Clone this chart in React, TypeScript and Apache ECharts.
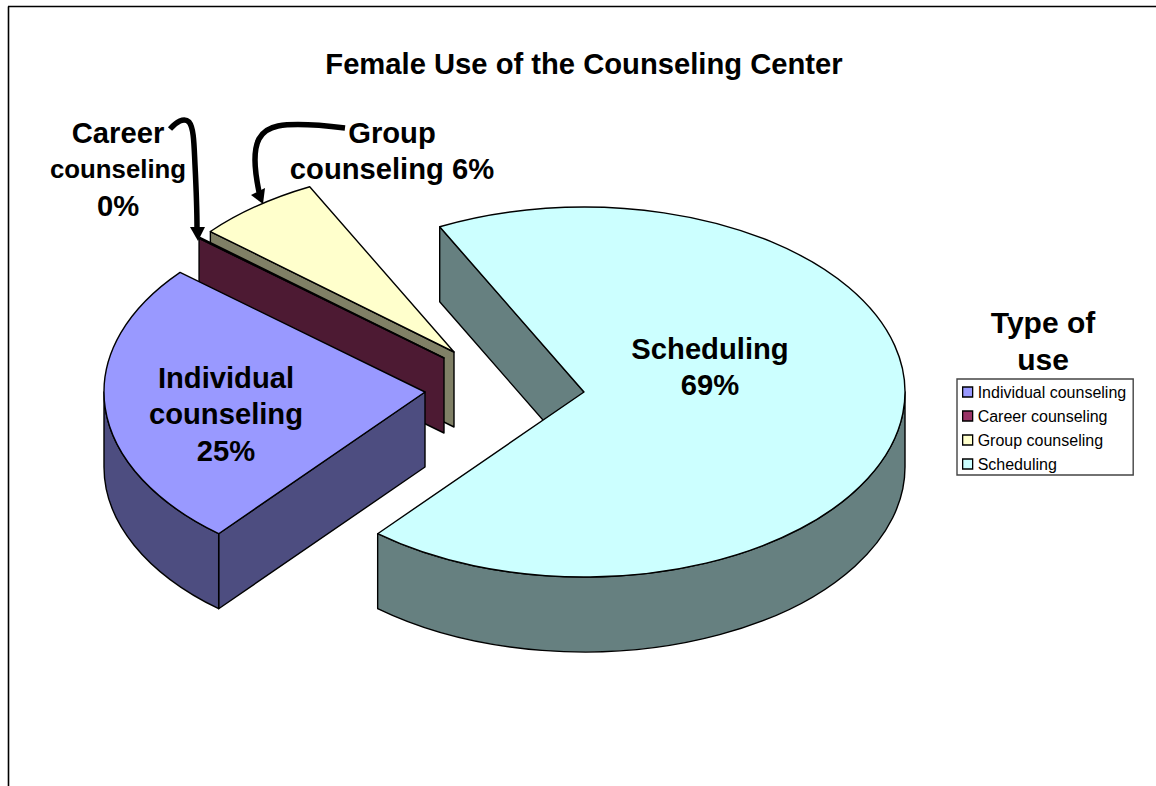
import React, { useEffect, useRef } from "react";
import * as echarts from "echarts";

const categories = ["Individual counseling", "Career counseling", "Group counseling", "Scheduling"];
const shares = [25.1, 0.1, 6.3, 68.6];
const sliceLabels = ["Individual\ncounseling\n25%", "Career\ncounseling\n0%", "Group\ncounseling 6%", "Scheduling\n69%"];
const topColors = ["#9999FF", "#993366", "#FFFFCC", "#CCFFFF"];
const sideColors = ["#4D4D80", "#4D1A33", "#808066", "#668080"];
const chartTitle = "Female Use of the Counseling Center";
const legendTitleLines = ["Type of", "use"];

// Layout of the exploded pie
const FONT = '"Liberation Sans", Arial, sans-serif';
const RX = 321;
const RY = 185;
const DEPTH = 75;
const FIRST_ANGLE = 220;
const LABEL_SIZE = 29.2;
const LABEL_LINE = 36.5;
const centers = [
  [425, 392],
  [444, 358],
  [454, 352],
  [584, 392],
];
const drawOrder = [4, 2, 1, 3];
const labelAnchors = [
  [226, 414],
  [118, 169],
  [392, 151],
  [710, 367],
];

const total = shares.reduce((a, b) => a + b, 0);

function pt(c: number[], deg: number, dy = 0) {
  const r = (deg * Math.PI) / 180;
  return [c[0] + RX * Math.sin(r), c[1] - RY * Math.cos(r) + dy];
}
const f = (p: number[]) => `${p[0].toFixed(2)} ${p[1].toFixed(2)}`;

function arcTo(c: number[], to: number, span: number, sweep: number, dy = 0) {
  return `A ${RX} ${RY} 0 ${Math.abs(span) > 180 ? 1 : 0} ${sweep} ${f(pt(c, to, dy))}`;
}

function slicePaths(index: number, value: number) {
  const c = centers[index];
  const before = shares.slice(0, index).reduce((a, b) => a + b, 0);
  const a0 = FIRST_ANGLE + (before / total) * 360;
  const a1 = a0 + (value / total) * 360;
  const paths: string[] = [];

  // cut faces that look towards the viewer
  if (Math.sin((a0 * Math.PI) / 180) < 0) {
    const e = pt(c, a0);
    paths.push(`M ${f(c)} L ${f(e)} L ${f([e[0], e[1] + DEPTH])} L ${f([c[0], c[1] + DEPTH])} Z`);
  }
  if (Math.sin((a1 * Math.PI) / 180) > 0) {
    const e = pt(c, a1);
    paths.push(`M ${f(c)} L ${f(e)} L ${f([e[0], e[1] + DEPTH])} L ${f([c[0], c[1] + DEPTH])} Z`);
  }
  // outer wall on the front half of the rim
  for (const k of [0, 360]) {
    const s = Math.max(a0, 90 + k);
    const e = Math.min(a1, 270 + k);
    if (e > s) {
      paths.push(
        `M ${f(pt(c, s))} ${arcTo(c, e, e - s, 1)} L ${f(pt(c, e, DEPTH))} ${arcTo(c, s, e - s, 0, DEPTH)} Z`
      );
    }
  }
  const top = `M ${f(c)} L ${f(pt(c, a0))} ${arcTo(c, a1, a1 - a0, 1)} Z`;
  return { sides: paths, top };
}

const careerArrow =
  "M 170 129 C 176 122 184 117 189 122 C 194 128 194 145 195 165 C 196 185 197 205 197 229";
const groupArrow =
  "M 345 128 C 320 125 295 123 278 126 C 258 130 255 145 255 160 C 255 172 257 182 259 192";
echarts.graphic.registerShape("careerArrow", echarts.graphic.extendPath(careerArrow, {}) as any);
echarts.graphic.registerShape("groupArrow", echarts.graphic.extendPath(groupArrow, {}) as any);

export default function App() {
  const ref = useRef<HTMLDivElement>(null);
  useEffect(() => {
    const chart = echarts.init(ref.current!, undefined, { renderer: "svg" });
    const lineStyle = { stroke: "#000", lineWidth: 1.4, lineJoin: "round" };
    const bigText = (text: string, x: number, y: number, size: number) => ({
      type: "text",
      x,
      y,
      z: 100,
      style: {
        text,
        fill: "#000",
        font: `bold ${size}px ${FONT}`,
        align: "center",
        verticalAlign: "middle",
      },
    });
    const labelLines = sliceLabels.flatMap((label, i) => {
      const lines = label.split("\n");
      return lines.map((line, j) =>
        bigText(
          line,
          labelAnchors[i][0],
          labelAnchors[i][1] + (j - (lines.length - 1) / 2) * LABEL_LINE,
          i === 1 && j === 1 ? 25.8 : LABEL_SIZE
        )
      );
    });
    chart.setOption({
      animation: false,
      backgroundColor: "#fff",
      legend: {
        orient: "vertical",
        left: 957,
        top: 379,
        padding: [5, 7, 3, 5],
        itemWidth: 10,
        itemHeight: 10,
        itemGap: 8,
        backgroundColor: "#fff",
        borderColor: "#444",
        borderWidth: 1.4,
        borderRadius: 0,
        selectedMode: false,
        icon: "rect",
        itemStyle: { borderColor: "#000", borderWidth: 1.3 },
        textStyle: { fontFamily: FONT, fontSize: 16, color: "#000", lineHeight: 16 },
        data: categories,
      },
      series: categories.map((name, i) => ({
        type: "custom",
        name,
        coordinateSystem: "none",
        z: drawOrder[i],
        silent: true,
        itemStyle: { color: topColors[i] },
        data: [[shares[i]]],
        renderItem: (_: any, api: any) => {
          const { sides, top } = slicePaths(i, api.value(0));
          return {
            type: "group",
            children: [
              ...sides.map((d) => ({
                type: "path",
                shape: { pathData: d },
                style: { ...lineStyle, fill: sideColors[i] },
              })),
              { type: "path", shape: { pathData: top }, style: { ...lineStyle, fill: topColors[i] } },
            ],
          };
        },
      })),
      graphic: [
        { type: "line", shape: { x1: 8.5, y1: 786, x2: 8.5, y2: 6.5 }, style: { stroke: "#000", lineWidth: 1.6 }, z: 50 },
        { type: "line", shape: { x1: 8, y1: 6.5, x2: 1156, y2: 6.5 }, style: { stroke: "#000", lineWidth: 1.6 }, z: 50 },
        bigText(chartTitle, 584, 64, 29.2),
        bigText(legendTitleLines[0], 1043, 322, 30),
        bigText(legendTitleLines[1], 1043, 359, 30),
        ...labelLines,
        { type: "careerArrow", z: 60, style: { fill: "none", stroke: "#000", lineWidth: 5.5 } },
        { type: "groupArrow", z: 60, style: { fill: "none", stroke: "#000", lineWidth: 5.5 } },
        { type: "polygon", z: 60, shape: { points: [[190, 227], [205, 227], [198, 241]] }, style: { fill: "#000" } },
        { type: "polygon", z: 60, shape: { points: [[251, 195], [265, 188], [263, 204]] }, style: { fill: "#000" } },
      ],
    });
    return () => chart.dispose();
  }, []);
  return <div ref={ref} style={{ position: "absolute", left: 0, top: 0, width: 1156, height: 786 }} />;
}
